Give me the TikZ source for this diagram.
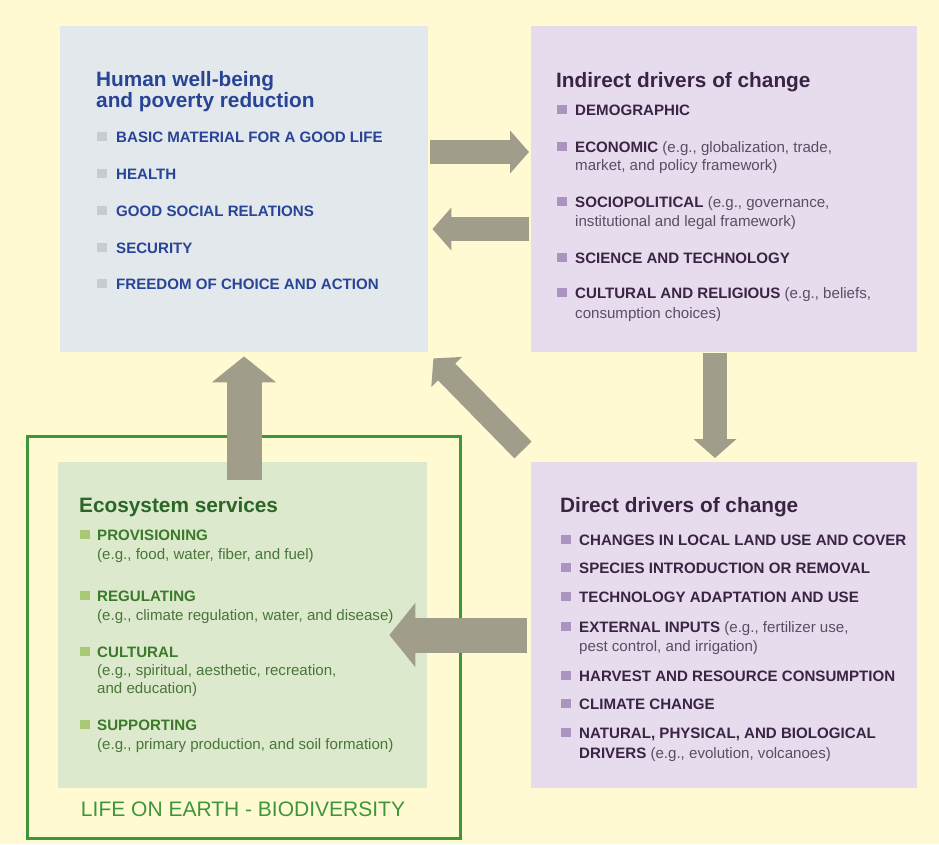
\documentclass[tikz,border=0pt]{standalone}
\usepackage{fontspec}
\setmainfont{Liberation Sans}
\usepackage{tikz}
\usetikzlibrary{arrows.meta, positioning}

\definecolor{bgyellow}{RGB}{255,250,210}
\definecolor{hwfill}{RGB}{227,232,236}
\definecolor{drvfill}{RGB}{231,220,238}
\definecolor{ecofill}{RGB}{221,233,204}
\definecolor{flowgray}{RGB}{160,158,138}
\definecolor{lifegreen}{RGB}{62,150,58}
\definecolor{hwblue}{RGB}{40,68,150}
\definecolor{drvpurple}{RGB}{58,36,68}
\definecolor{drvgray}{RGB}{92,76,102}
\definecolor{ecogreen}{RGB}{42,102,40}
\definecolor{ecoitem}{RGB}{58,122,42}
\definecolor{ecotext}{RGB}{72,118,58}
\definecolor{sqgray}{RGB}{200,204,208}
\definecolor{sqpurple}{RGB}{172,148,192}
\definecolor{sqgreen}{RGB}{168,200,118}

% square bullet in front of a list entry
\newcommand{\bul}[2][18pt]{\makebox[#1][l]{\textcolor{#2}{\rule[1pt]{9.5pt}{9.5pt}}}}
% examples in brackets, set lighter
\newcommand{\egp}[1]{{\mdseries\color{drvgray}#1}}

\begin{document}
\begin{tikzpicture}[x=1pt, y=-1pt,
	box/.style={inner sep=0, anchor=north west},
	heading/.style={anchor=base west, inner sep=0, font=\bfseries\fontsize{20.8}{24}\selectfont},
	entry/.style={anchor=base west, inner sep=0, font=\fontsize{15.1}{18}\selectfont},
	hwentry/.style={entry, font=\bfseries\fontsize{15.1}{18}\selectfont, text=hwblue},
	drventry/.style={entry, font=\bfseries\fontsize{15.1}{18}\selectfont, text=drvpurple},
	ecoentry/.style={entry, font=\bfseries\fontsize{15.1}{18}\selectfont, text=ecoitem},
	flow/.style={draw=flowgray, line width=24pt, -{Triangle[width=42pt,length=19pt]}},
	bigflow/.style={draw=flowgray, line width=35pt, -{Triangle[width=63pt,length=26pt]}}]

	% Background
	\fill[bgyellow] (0,0) rectangle (939,844);

	% Draw the four boxes and the frame round ecosystem services
	\node[box, fill=hwfill, minimum width=368pt, minimum height=326pt] (hw) at (60,26) {};
	\node[box, fill=drvfill, minimum width=386pt, minimum height=326pt] (ind) at (531,26) {};
	\node[box, draw=lifegreen, line width=2.5pt, minimum width=433pt, minimum height=402pt] (life) at (26,435) {};
	\node[box, fill=ecofill, minimum width=369pt, minimum height=326pt] (eco) at (58,462) {};
	\node[box, fill=drvfill, minimum width=386pt, minimum height=326pt] (dir) at (531,462) {};

	% Human well-being
	\node[heading, text=hwblue] (hwhead) at (96,86) {Human well-being};
	\node[heading, text=hwblue] (hwhead2) at (96,107) {and poverty reduction};
	\node[hwentry] (hw1) at (97,142) {\bul[19pt]{sqgray}BASIC MATERIAL FOR A GOOD LIFE};
	\node[hwentry] (hw2) at (97,179) {\bul[19pt]{sqgray}HEALTH};
	\node[hwentry] (hw3) at (97,216) {\bul[19pt]{sqgray}GOOD SOCIAL RELATIONS};
	\node[hwentry] (hw4) at (97,253) {\bul[19pt]{sqgray}SECURITY};
	\node[hwentry] (hw5) at (97,289) {\bul[19pt]{sqgray}FREEDOM OF CHOICE AND ACTION};

	% Indirect drivers
	\node[heading, text=drvpurple] (indhead) at (556,87) {Indirect drivers of change};
	\node[drventry] (ind1) at (557,115) {\bul{sqpurple}DEMOGRAPHIC};
	\node[drventry] (ind2) at (557,152) {\bul{sqpurple}ECONOMIC \egp{(e.g., globalization, trade,}};
	\node[drventry] (ind2b) at (575,170) {\egp{market, and policy framework)}};
	\node[drventry] (ind3) at (557,207) {\bul{sqpurple}SOCIOPOLITICAL \egp{(e.g., governance,}};
	\node[drventry] (ind3b) at (575,226) {\egp{institutional and legal framework)}};
	\node[drventry] (ind4) at (557,263) {\bul{sqpurple}SCIENCE AND TECHNOLOGY};
	\node[drventry] (ind5) at (557,298) {\bul{sqpurple}CULTURAL AND RELIGIOUS \egp{(e.g., beliefs,}};
	\node[drventry] (ind5b) at (575,318) {\egp{consumption choices)}};

	% Ecosystem services
	\node[heading, text=ecogreen] (ecohead) at (79,512) {Ecosystem services};
	\node[ecoentry] (eco1) at (80,540) {\bul[17pt]{sqgreen}PROVISIONING};
	\node[entry, text=ecotext] (eco1b) at (97,559) {(e.g., food, water, fiber, and fuel)};
	\node[ecoentry] (eco2) at (80,601) {\bul[17pt]{sqgreen}REGULATING};
	\node[entry, text=ecotext] (eco2b) at (97,620) {(e.g., climate regulation, water, and disease)};
	\node[ecoentry] (eco3) at (80,657) {\bul[17pt]{sqgreen}CULTURAL};
	\node[entry, text=ecotext] (eco3b) at (97,675) {(e.g., spiritual, aesthetic, recreation,};
	\node[entry, text=ecotext] (eco3c) at (97,693) {and education)};
	\node[ecoentry] (eco4) at (80,730) {\bul[17pt]{sqgreen}SUPPORTING};
	\node[entry, text=ecotext] (eco4b) at (97,749) {(e.g., primary production, and soil formation)};
	\node[anchor=base, inner sep=0, font=\fontsize{21}{24}\selectfont, text=lifegreen] (lifelabel) at (243,816) {LIFE ON EARTH - BIODIVERSITY};

	% Direct drivers
	\node[heading, text=drvpurple] (dirhead) at (560,512) {Direct drivers of change};
	\node[drventry] (dir1) at (561,545) {\bul{sqpurple}CHANGES IN LOCAL LAND USE AND COVER};
	\node[drventry] (dir2) at (561,573) {\bul{sqpurple}SPECIES INTRODUCTION OR REMOVAL};
	\node[drventry] (dir3) at (561,602) {\bul{sqpurple}TECHNOLOGY ADAPTATION AND USE};
	\node[drventry] (dir4) at (561,632) {\bul{sqpurple}EXTERNAL INPUTS \egp{(e.g., fertilizer use,}};
	\node[drventry] (dir4b) at (579,651) {\egp{pest control, and irrigation)}};
	\node[drventry] (dir5) at (561,681) {\bul{sqpurple}HARVEST AND RESOURCE CONSUMPTION};
	\node[drventry] (dir6) at (561,709) {\bul{sqpurple}CLIMATE CHANGE};
	\node[drventry] (dir7) at (561,738) {\bul{sqpurple}NATURAL, PHYSICAL, AND BIOLOGICAL};
	\node[drventry] (dir7b) at (579,758) {DRIVERS \egp{(e.g., evolution, volcanoes)}};

	% Draw the arrows between the boxes
	\draw[flow] ([shift={(2,126)}]hw.north east) -- ([shift={(-2,126)}]ind.north west);
	\draw[flow] ([shift={(-2,203)}]ind.north west) -- ([shift={(4,203)}]hw.north east);
	\draw[flow] ([shift={(184,1)}]ind.south west) -- ([shift={(184,-4)}]dir.north west);
	\draw[flow] ([shift={(-8,-12)}]dir.north west) -- ([shift={(5,6)}]hw.south east);
	\draw[bigflow] ([shift={(186,18)}]eco.north west) -- ([shift={(184,4)}]hw.south west);
	\draw[bigflow] ([shift={(-4,173)}]dir.north west) -- ([shift={(-38,173)}]eco.north east);
\end{tikzpicture}
\end{document}
